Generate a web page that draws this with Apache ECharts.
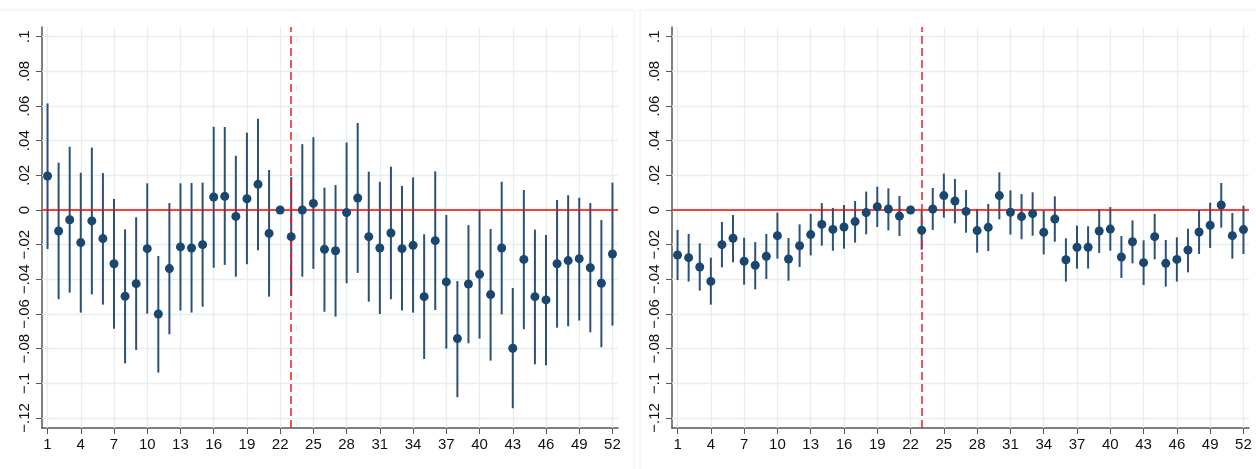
<!DOCTYPE html>
<html>
<head>
<meta charset="utf-8">
<script src="https://cdn.jsdelivr.net/npm/echarts@6/dist/echarts.min.js"></script>
<style>
  html, body { margin: 0; padding: 0; background: #fff; }
  #main { width: 1256px; height: 469px; }
</style>
</head>
<body>
<div id="main"></div>
<script>
// weeks on the x axis
var weeks = [1,2,3,4,5,6,7,8,9,10,11,12,13,14,15,16,17,18,19,20,21,22,23,24,25,26,
  27,28,29,30,31,32,33,34,35,36,37,38,39,40,41,42,43,44,45,46,47,48,49,50,51,52];
var xTicks = [1,4,7,10,13,16,19,22,25,28,31,34,37,40,43,46,49,52];
var yTicks = [-0.12,-0.1,-0.08,-0.06,-0.04,-0.02,0,0.02,0.04,0.06,0.08,0.1];
var yTickLabels = ['\u2212.12','\u2212.1','\u2212.08','\u2212.06','\u2212.04','\u2212.02','0','.02','.04','.06','.08','.1'];
var eventWeek = 23;

// left panel
var leftCoef = [0.0196,-0.0121,-0.0056,-0.0188,-0.0063,-0.0165,-0.0310,-0.0498,-0.0425,-0.0223,
  -0.0600,-0.0338,-0.0213,-0.0219,-0.0200,0.0075,0.0079,-0.0037,0.0065,0.0148,
  -0.0135,0,-0.0154,0.0000,0.0038,-0.0227,-0.0235,-0.0015,0.0069,-0.0154,
  -0.0219,-0.0133,-0.0223,-0.0204,-0.0500,-0.0177,-0.0415,-0.0742,-0.0427,-0.0371,
  -0.0488,-0.0219,-0.0798,-0.0285,-0.0500,-0.0519,-0.0310,-0.0292,-0.0281,-0.0333,
  -0.0423,-0.0254];
var leftHi = [0.0615,0.0273,0.0365,0.0215,0.0360,0.0213,0.0063,-0.0112,-0.0042,0.0154,
  -0.0265,0.0040,0.0154,0.0156,0.0158,0.0480,0.0479,0.0313,0.0446,0.0527,
  0.0231,null,0.0190,0.0380,0.0420,0.0129,0.0144,0.0390,0.0502,0.0221,
  0.0163,0.0250,0.0138,0.0188,-0.0140,0.0223,-0.0029,-0.0410,-0.0087,0.0000,
  -0.0110,0.0163,-0.0450,0.0115,-0.0113,-0.0144,0.0058,0.0085,0.0071,0.0040,
  -0.0058,0.0158];
var leftLo = [-0.0225,-0.0515,-0.0477,-0.0592,-0.0487,-0.0546,-0.0685,-0.0885,-0.0808,-0.0598,
  -0.0938,-0.0717,-0.0580,-0.0592,-0.0558,-0.0333,-0.0317,-0.0385,-0.0313,-0.0233,
  -0.0500,null,-0.0496,-0.0385,-0.0340,-0.0587,-0.0615,-0.0423,-0.0363,-0.0529,
  -0.0600,-0.0515,-0.0580,-0.0592,-0.0860,-0.0577,-0.0800,-0.1080,-0.0769,-0.0742,
  -0.0869,-0.0602,-0.1144,-0.0688,-0.0890,-0.0896,-0.0679,-0.0671,-0.0638,-0.0706,
  -0.0792,-0.0667];

// right panel
var rightCoef = [-0.0260,-0.0275,-0.0329,-0.0412,-0.0200,-0.0163,-0.0296,-0.0319,-0.0267,-0.0148,
  -0.0283,-0.0206,-0.0142,-0.0083,-0.0112,-0.0098,-0.0067,-0.0015,0.0019,0.0006,
  -0.0035,0,-0.0117,0.0006,0.0083,0.0052,-0.0008,-0.0119,-0.0100,0.0083,
  -0.0013,-0.0038,-0.0021,-0.0129,-0.0052,-0.0287,-0.0215,-0.0215,-0.0121,-0.0110,
  -0.0271,-0.0183,-0.0304,-0.0154,-0.0308,-0.0285,-0.0231,-0.0127,-0.0088,0.0029,
  -0.0148,-0.0113];
var rightHi = [-0.0115,-0.0138,-0.0192,-0.0275,-0.0069,-0.0029,-0.0160,-0.0185,-0.0138,-0.0015,
  -0.0162,-0.0083,-0.0023,0.0040,0.0012,0.0029,0.0052,0.0106,0.0135,0.0125,
  0.0081,null,-0.0005,0.0127,0.0210,0.0179,0.0115,0.0006,0.0035,0.0217,
  0.0113,0.0092,0.0102,-0.0004,0.0079,-0.0163,-0.0090,-0.0094,0.0006,0.0017,
  -0.0150,-0.0060,-0.0175,-0.0023,-0.0173,-0.0158,-0.0108,0.0000,0.0042,0.0156,
  -0.0017,0.0025];
var rightLo = [-0.0404,-0.0413,-0.0465,-0.0546,-0.0331,-0.0302,-0.0431,-0.0458,-0.0398,-0.0281,
  -0.0408,-0.0329,-0.0262,-0.0206,-0.0235,-0.0223,-0.0188,-0.0140,-0.0098,-0.0117,
  -0.0150,null,-0.0229,-0.0115,-0.0044,-0.0077,-0.0131,-0.0246,-0.0237,-0.0054,
  -0.0142,-0.0169,-0.0148,-0.0256,-0.0183,-0.0413,-0.0338,-0.0338,-0.0248,-0.0235,
  -0.0392,-0.0308,-0.0433,-0.0285,-0.0442,-0.0413,-0.0360,-0.0254,-0.0219,-0.0102,
  -0.0281,-0.0254];

var navy = '#1a476f';
var ciColor = '#2b5179';
var gridColor = '#e6eef0';
var axisColor = '#555';
var font = '"Liberation Sans", Arial, sans-serif';

function yLabel(v) {
  for (var i = 0; i < yTicks.length; i++) {
    if (Math.abs(yTicks[i] - v) < 1e-9) return yTickLabels[i];
  }
  return '';
}

function makeX(gi) {
  return {
    type: 'value', gridIndex: gi, min: 0.5, max: 52.5,
    axisLine: { show: true, onZero: false, lineStyle: { color: axisColor, width: 1.5 } },
    axisTick: { show: true, length: 6, customValues: xTicks, lineStyle: { color: axisColor, width: 1 } },
    axisLabel: { customValues: xTicks, margin: 9, color: '#111', fontSize: 15, fontFamily: font },
    splitLine: { show: false }
  };
}
function makeY(gi) {
  return {
    type: 'value', gridIndex: gi, min: -0.1258, max: 0.1056,
    axisLine: { show: true, onZero: false, lineStyle: { color: axisColor, width: 1.5 } },
    axisTick: { show: true, length: 6, customValues: yTicks, lineStyle: { color: axisColor, width: 1 } },
    axisLabel: { customValues: yTicks, rotate: 90, margin: 10, color: '#111', fontSize: 15, fontFamily: font,
      formatter: yLabel },
    splitLine: { show: false }
  };
}

function ciData(lo, hi) {
  var out = [];
  for (var i = 0; i < weeks.length; i++) {
    if (lo[i] !== null && hi[i] !== null) out.push([weeks[i], lo[i], hi[i]]);
  }
  return out;
}
function ptData(coef) {
  return weeks.map(function (w, i) { return [w, coef[i]]; });
}

function renderCI(params, api) {
  var p1 = api.coord([api.value(0), api.value(1)]);
  var p2 = api.coord([api.value(0), api.value(2)]);
  return {
    type: 'line',
    shape: { x1: p1[0], y1: p1[1], x2: p2[0], y2: p2[1] },
    style: { stroke: ciColor, lineWidth: 2 }
  };
}

function panelSeries(gi, coef, lo, hi) {
  var gridLines = [];
  yTicks.forEach(function (t) { gridLines.push({ yAxis: t }); });
  xTicks.forEach(function (t) { gridLines.push({ xAxis: t }); });
  return [
    {
      type: 'line', xAxisIndex: gi, yAxisIndex: gi, data: [], silent: true,
      markLine: {
        silent: true, symbol: ['none', 'none'], z: 1, animation: false,
        label: { show: false },
        lineStyle: { color: gridColor, width: 1.3, type: 'solid' },
        emphasis: { disabled: true },
        data: gridLines
      }
    },
    {
      type: 'custom', xAxisIndex: gi, yAxisIndex: gi, z: 2, silent: true,
      renderItem: renderCI, data: ciData(lo, hi)
    },
    {
      type: 'line', xAxisIndex: gi, yAxisIndex: gi, data: [], silent: true,
      markLine: {
        silent: true, symbol: ['none', 'none'], z: 3, animation: false,
        label: { show: false },
        emphasis: { disabled: true },
        data: [
          { yAxis: 0, lineStyle: { color: '#ff0000', width: 1.6, type: 'solid' } },
          { xAxis: eventWeek, lineStyle: { color: '#e8202a', width: 1.5, type: [8, 4] } }
        ]
      }
    },
    {
      type: 'scatter', xAxisIndex: gi, yAxisIndex: gi, z: 4, silent: true,
      symbol: 'circle', symbolSize: 9,
      itemStyle: { color: navy, opacity: 1 },
      data: ptData(coef)
    }
  ];
}

var chart = echarts.init(document.getElementById('main'), null, { renderer: 'canvas' });
chart.setOption({
  animation: false,
  backgroundColor: '#fff',
  graphic: [
    { type: 'rect', silent: true, z: -10, shape: { x: -2, y: 10, width: 636, height: 470 },
      style: { fill: 'none', stroke: '#e8eeee', lineWidth: 1 } },
    { type: 'rect', silent: true, z: -10, shape: { x: 640, y: 10, width: 630, height: 470 },
      style: { fill: 'none', stroke: '#e8eeee', lineWidth: 1 } }
  ],
  grid: [
    { left: 42, top: 27, width: 576, height: 401 },
    { left: 672, top: 27, width: 577, height: 401 }
  ],
  xAxis: [makeX(0), makeX(1)],
  yAxis: [makeY(0), makeY(1)],
  series: panelSeries(0, leftCoef, leftLo, leftHi).concat(panelSeries(1, rightCoef, rightLo, rightHi))
});
</script>
</body>
</html>
